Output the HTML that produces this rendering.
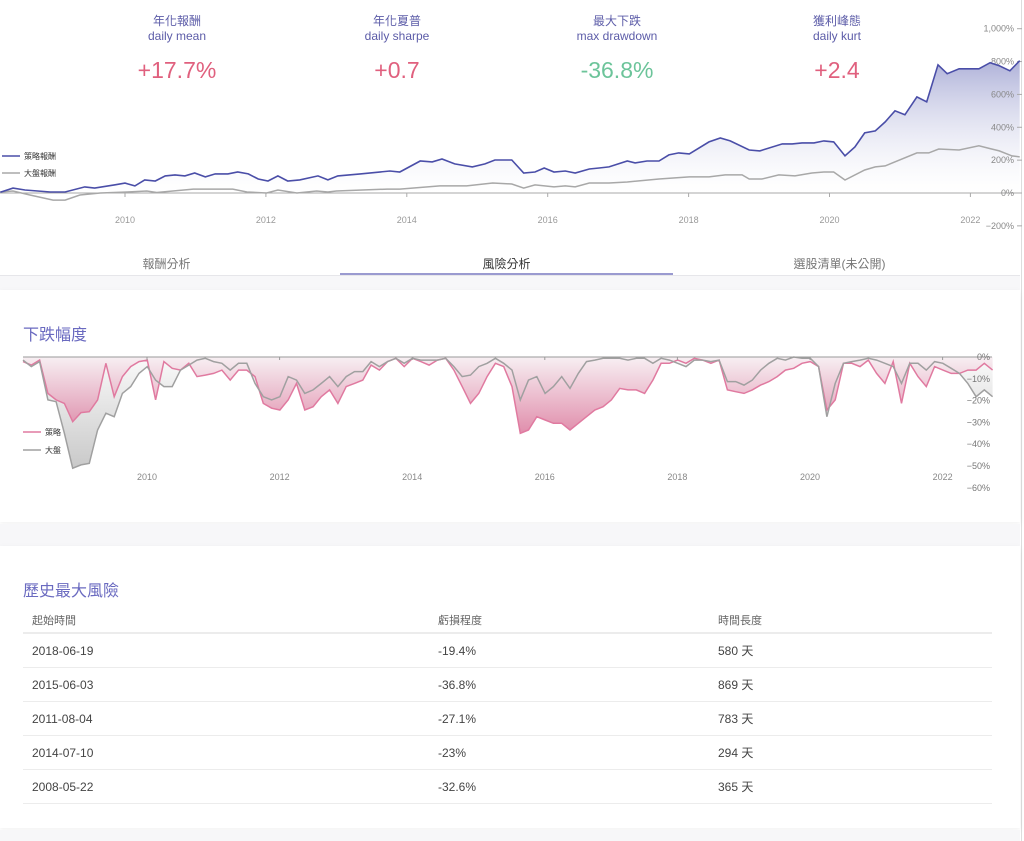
<!DOCTYPE html>
<html><head><meta charset="utf-8">
<style>
body{margin:0;width:1024px;height:841px;overflow:hidden;background:#fff;font-family:"Liberation Sans","Noto Sans CJK TC",sans-serif;position:relative}
.stat{position:absolute;top:14px;width:200px;text-align:center;color:#5c5ca8;font-size:12px;line-height:15px}
.stat .v{font-size:23px;margin-top:12px;font-weight:300;line-height:28px}
.tabs{position:absolute;top:250px;left:0;width:1020px;height:25px;border-bottom:1px solid #e6e6ea}
.tab{position:absolute;top:5px;width:333px;text-align:center;font-size:12px;color:#777}
.band{position:absolute;left:0;width:1020px;background:#f7f7f9}
.card{position:absolute;left:0;width:1020px;background:#fff;box-shadow:0 2px 6px rgba(0,0,0,0.06)}
.rline{position:absolute;left:1021px;top:0;width:1px;height:841px;background:#ddd}
table{position:absolute;left:23px;top:608px;width:969px;border-collapse:collapse;font-size:12px;color:#444}
td,th{text-align:left;padding:0 0 0 9px;height:33px;border-bottom:1px solid #ececec;font-weight:normal}
th{font-size:11px;color:#666;height:24px;vertical-align:middle;border-bottom:2px solid #ececec}
</style></head><body>
<div class="rline"></div>
<div class="stat" style="left:77px"><div>年化報酬</div><div>daily mean</div><div class="v" style="color:#e0607e">+17.7%</div></div>
<div class="stat" style="left:297px"><div>年化夏普</div><div>daily sharpe</div><div class="v" style="color:#e0607e">+0.7</div></div>
<div class="stat" style="left:517px"><div>最大下跌</div><div>max drawdown</div><div class="v" style="color:#6cc49a">-36.8%</div></div>
<div class="stat" style="left:737px"><div>獲利峰態</div><div>daily kurt</div><div class="v" style="color:#e0607e">+2.4</div></div>

<svg id="top" width="1024" height="245" style="position:absolute;left:0;top:0"></svg>

<div class="tabs">
<div class="tab" style="left:0">報酬分析</div>
<div class="tab" style="left:340px;color:#333">風險分析</div>
<div class="tab" style="left:673px">選股清單(未公開)</div>
<div style="position:absolute;left:340px;top:23px;width:333px;height:2px;background:#9a9ad0"></div>
</div>
<div class="band" style="top:276px;height:14px"></div>
<div class="card" style="top:290px;height:232px">
<div style="position:absolute;left:23px;top:31px;font-size:16px;color:#6a6ac0">下跌幅度</div>
</div>
<div class="band" style="top:524px;height:22px"></div>
<div class="card" style="top:546px;height:282px">
<div style="position:absolute;left:23px;top:31px;font-size:16px;color:#6a6ac0">歷史最大風險</div>
</div>
<div class="band" style="top:830px;height:11px"></div>
<svg id="dd" width="1024" height="200" style="position:absolute;left:0;top:340px"></svg>

<table>
<tr><th style="width:397px">起始時間</th><th style="width:271px">虧損程度</th><th>時間長度</th></tr>
<tr><td>2018-06-19</td><td>-19.4%</td><td>580 天</td></tr>
<tr><td>2015-06-03</td><td>-36.8%</td><td>869 天</td></tr>
<tr><td>2011-08-04</td><td>-27.1%</td><td>783 天</td></tr>
<tr><td>2014-07-10</td><td>-23%</td><td>294 天</td></tr>
<tr><td>2008-05-22</td><td>-32.6%</td><td>365 天</td></tr>
</table>

<script>
// ---- returns chart data ----
const stratDates=[2008.23,2008.41,2008.58,2008.94,2009.15,2009.43,2009.57,2009.86,2010.00,2010.14,2010.28,2010.43,2010.57,2010.71,2010.85,2010.99,2011.14,2011.28,2011.46,2011.60,2011.75,2011.89,2012.03,2012.17,2012.31,2012.48,2012.74,2012.88,2013.02,2013.34,2013.76,2013.90,2014.19,2014.36,2014.50,2014.68,2014.93,2015.11,2015.25,2015.49,2015.66,2015.82,2015.95,2016.09,2016.25,2016.39,2016.59,2016.73,2016.87,2017.13,2017.24,2017.41,2017.58,2017.72,2017.86,2018.01,2018.29,2018.45,2018.59,2018.86,2019.01,2019.33,2019.47,2019.61,2019.78,2019.92,2020.06,2020.22,2020.36,2020.50,2020.65,2020.79,2020.93,2021.07,2021.24,2021.38,2021.54,2021.67,2021.84,2022.12,2022.28,2022.41,2022.56,2022.70];
const stratReturns=[5,30,18,6,6,37,30,50,60,43,80,73,104,110,104,122,98,116,116,128,116,85,73,104,73,80,104,80,104,116,134,128,195,189,207,177,159,177,201,201,122,128,152,128,134,122,146,152,159,195,183,195,195,232,244,238,311,335,317,262,256,299,299,305,305,317,311,226,280,366,378,433,500,476,585,555,780,726,756,756,793,774,744,805];
const benchDates=[2008.23,2008.41,2008.65,2008.98,2009.15,2009.36,2009.65,2010.03,2010.31,2010.45,2010.68,2010.97,2011.53,2011.73,2012.01,2012.17,2012.44,2012.72,2012.88,2013.00,2013.72,2013.90,2014.47,2014.85,2015.22,2015.49,2015.66,2015.82,2016.09,2016.25,2016.39,2016.59,2016.87,2017.13,2017.58,2018.01,2018.29,2018.52,2018.76,2018.86,2019.04,2019.28,2019.51,2019.75,2019.92,2020.06,2020.22,2020.50,2020.65,2020.79,2021.24,2021.41,2021.55,2021.84,2022.12,2022.28,2022.41,2022.59,2022.70];
const benchReturns=[6,12,-12,-43,-43,-12,0,6,12,3,12,24,24,6,0,18,0,12,6,12,24,24,43,43,61,55,30,49,37,43,37,61,61,67,85,98,98,110,110,85,85,110,104,122,128,128,79,140,159,165,244,244,268,262,287,270,256,226,220];
const topYTicks=[1000,800,600,400,200,0,-200];
const topYLabels=["1,000%","800%","600%","400%","200%","0%","−200%"];
const xYearTicks=[2010,2012,2014,2016,2018,2020,2022];

// ---- drawdown chart data ----
const ddStart=2008.13, ddStep=0.125;
const ddStrategy=[-2.1,-3.7,-1.4,-16.7,-19.7,-21.3,-29.7,-25.5,-25.1,-19.7,-2.9,-18.2,-9.0,-4.4,-2.1,-1.4,-19.7,-2.1,-5.2,-6.0,-2.9,-9.0,-8.3,-7.5,-6.0,-10.6,-6.0,-6.0,-9.0,-21.3,
-23.5,-24.3,-19.7,-12.1,-24.3,-22.8,-18.2,-15.1,-21.3,-13.6,-12.1,-10.6,-3.7,-6.0,-2.1,-0.6,-4.4,-0.6,-2.1,-3.7,-1.4,-0.6,-6.0,-13.6,-21.3,-16.7,-9.0,-2.9,-4.4,
-13.6,-35.0,-33.5,-27.4,-28.9,-30.4,-30.4,-33.5,-30.4,-27.4,-24.3,-22.8,-19.7,-14.4,-15.1,-15.1,-16.7,-10.6,-2.9,-2.9,-1.4,-2.9,-0.6,-1.4,-2.9,-1.4,-15.1,-15.9,-16.7,
-15.1,-12.9,-11.3,-9.0,-6.0,-5.2,-2.9,-2.1,-4.4,-24.3,-19.7,-2.9,-2.9,-4.4,-1.4,-7.5,-12.1,-2.1,-21.3,-2.9,-9.0,-13.6,-4.4,-6.0,-7.5,-7.5,-6.0,-6.0,-2.9,-6.0];
const ddBenchmark=[-1.4,-4.4,-2.1,-19.7,-20.5,-35.0,-51.0,-49.5,-48.8,-33.5,-25.8,-27.4,-16.7,-13.6,-7.5,-4.4,-10.6,-13.6,-13.6,-6.0,-3.7,-1.4,-0.6,-2.1,-2.9,-6.0,-2.9,-2.9,-12.1,-18.2,
-19.7,-18.2,-9.0,-10.6,-16.7,-15.1,-12.1,-9.0,-13.6,-9.0,-6.7,-6.7,-2.1,-4.4,-2.1,-0.6,-2.9,-0.6,-1.4,-1.4,-1.4,-0.6,-4.4,-9.0,-8.3,-4.4,-2.9,-0.6,-2.9,
-6.0,-19.7,-10.6,-9.0,-16.7,-13.6,-9.0,-14.4,-7.5,-2.1,-1.4,-0.6,-0.6,-0.6,-1.4,-0.6,-0.6,-2.9,-0.6,-1.4,-2.9,-4.4,-1.4,-1.4,-2.1,-1.4,-11.3,-11.3,-12.9,
-10.6,-6.0,-2.9,-0.6,-1.4,0,-0.6,-0.6,-4.4,-27.4,-12.1,-2.9,-2.1,-1.4,-0.6,-1.4,-2.9,-4.4,-12.1,-2.9,-2.9,-6.0,-2.1,-2.9,-5.2,-7.5,-12.1,-18.2,-15.1,-18.2];
const ddYTicks=[0,-10,-20,-30,-40,-50,-60];
const ddYLabels=["0%","−10%","−20%","−30%","−40%","−50%","−60%"];

const NS="http://www.w3.org/2000/svg";
function mk(p,tag,attrs){const e=document.createElementNS(NS,tag);for(const k in attrs)e.setAttribute(k,attrs[k]);p.appendChild(e);return e;}
function txt(p,x,y,s,size,fill,anchor){const t=mk(p,"text",{x:x,y:y,"font-size":size,fill:fill,"text-anchor":anchor||"start","font-family":"Liberation Sans, Noto Sans CJK TC, sans-serif"});t.textContent=s;return t;}

// ===== top chart =====
(function(){
const svg=document.getElementById("top");
const X=y=>125+(y-2010)*70.45;
const Y=v=>193-v*0.1643;
const defs=mk(svg,"defs",{});
const g=mk(defs,"linearGradient",{id:"gTop",x1:0,y1:0,x2:0,y2:1});
mk(g,"stop",{offset:"0","stop-color":"#9498cc","stop-opacity":"0.75"});
mk(g,"stop",{offset:"1","stop-color":"#ffffff","stop-opacity":"0.2"});
let d="M"+X(stratDates[0])+","+Y(0);
stratDates.forEach((t,i)=>d+=" L"+X(t).toFixed(1)+","+Y(stratReturns[i]).toFixed(1));
d+=" L"+X(stratDates[stratDates.length-1])+","+Y(0)+"Z";
const area=mk(svg,"path",{d:d,fill:"url(#gTop)"});


const ax=mk(svg,"line",{x1:0,y1:Y(0),x2:1017,y2:Y(0),stroke:"#aaa","stroke-width":1});


xYearTicks.forEach(yr=>{
  mk(svg,"line",{x1:X(yr),y1:Y(0),x2:X(yr),y2:Y(0)+4,stroke:"#aaa"});
  const t=txt(svg,X(yr),Y(0)+30,String(yr),9,"#999","middle");
  
  
});
topYTicks.forEach((v,i)=>{
  mk(svg,"line",{x1:1017,y1:Y(v),x2:1022,y2:Y(v),stroke:"#aaa"});
  const t=txt(svg,1014,Y(v)+3,topYLabels[i],9,"#888","end");
  
  
});
let pb="";benchDates.forEach((t,i)=>pb+=(i?" L":"M")+X(t).toFixed(1)+","+Y(benchReturns[i]).toFixed(1));
const lb=mk(svg,"path",{d:pb,fill:"none",stroke:"#a8a8a8","stroke-width":1.5});


let ps="";stratDates.forEach((t,i)=>ps+=(i?" L":"M")+X(t).toFixed(1)+","+Y(stratReturns[i]).toFixed(1));
const ls=mk(svg,"path",{d:ps,fill:"none",stroke:"#4a4ea8","stroke-width":1.6});


const l1=mk(svg,"line",{x1:2,y1:156,x2:20,y2:156,stroke:"#4a4ea8","stroke-width":1.6});


txt(svg,24,159,"策略報酬",8,"#333");
const l2=mk(svg,"line",{x1:2,y1:173,x2:20,y2:173,stroke:"#a8a8a8","stroke-width":1.6});


txt(svg,24,176,"大盤報酬",8,"#333");
})();

// ===== drawdown chart (svg top = 340) =====
(function(){
const svg=document.getElementById("dd");
const x0=23,pxYear=66.3;
const X=t=>x0+(t-ddStart)*pxYear;
const Y=v=>17-v*2.18;
const dates=ddStrategy.map((_,i)=>ddStart+i*ddStep);
const defs=mk(svg,"defs",{});
const gp=mk(defs,"linearGradient",{id:"gPink",gradientUnits:"userSpaceOnUse",x1:0,y1:Y(0),x2:0,y2:Y(-36)});
mk(gp,"stop",{offset:"0","stop-color":"#f7eef2"});
mk(gp,"stop",{offset:"1","stop-color":"#dc7ea0"});
const gg=mk(defs,"linearGradient",{id:"gGray",gradientUnits:"userSpaceOnUse",x1:0,y1:Y(0),x2:0,y2:Y(-52)});
mk(gg,"stop",{offset:"0","stop-color":"#fafafa"});
mk(gg,"stop",{offset:"1","stop-color":"#c8c8c8"});
function pathOf(arr){let s="";arr.forEach((v,i)=>s+=(i?" L":"M")+X(dates[i]).toFixed(1)+","+Y(v).toFixed(1));return s;}
function areaOf(arr){return pathOf(arr)+" L"+X(dates[dates.length-1]).toFixed(1)+","+Y(0)+" L"+X(dates[0])+","+Y(0)+"Z";}
const ag=mk(svg,"path",{d:areaOf(ddBenchmark),fill:"url(#gGray)"});


const ap=mk(svg,"path",{d:areaOf(ddStrategy),fill:"url(#gPink)","fill-opacity":"0.9"});


const lp=mk(svg,"path",{d:pathOf(ddStrategy),fill:"none",stroke:"#e07aa0","stroke-width":1.5});


const lg=mk(svg,"path",{d:pathOf(ddBenchmark),fill:"none",stroke:"#a0a0a0","stroke-width":1.5});


const zl=mk(svg,"line",{x1:23,y1:Y(0),x2:992,y2:Y(0),stroke:"#999","stroke-width":1});


xYearTicks.forEach(yr=>{
  const xx=147+(yr-2010)*66.3;
  mk(svg,"line",{x1:xx,y1:Y(0),x2:xx,y2:Y(0)+3,stroke:"#999"});
  const t=txt(svg,xx,140,String(yr),9,"#888","middle");
  
  
});
ddYTicks.forEach((v,i)=>{
  const t=txt(svg,990,Y(v)+3,ddYLabels[i],9,"#777","end");
  
  
});
const l1=mk(svg,"line",{x1:23,y1:92,x2:41,y2:92,stroke:"#e07aa0","stroke-width":1.5});


txt(svg,45,95,"策略",8,"#333");
const l2=mk(svg,"line",{x1:23,y1:110,x2:41,y2:110,stroke:"#a0a0a0","stroke-width":1.5});


txt(svg,45,113,"大盤",8,"#333");
})();
</script>
</body></html>
